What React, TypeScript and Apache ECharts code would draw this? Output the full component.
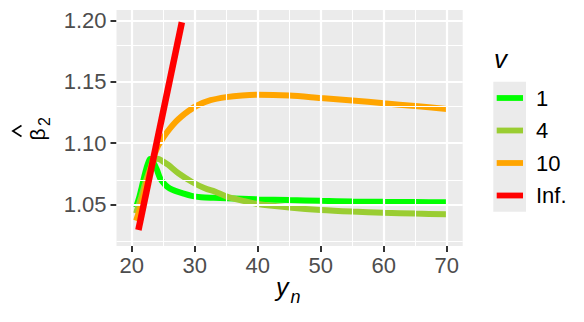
import React, { useEffect, useRef } from "react";
import * as echarts from "echarts";

const seriesNames = ["1", "4", "10", "Inf."];
const seriesColors = ["#00ff00", "#9acd32", "#ffa500", "#ff0000"];

const xV1 = [20.68, 21.2, 21.6, 22.0, 22.4, 22.65, 22.9, 23.15, 23.4, 23.7, 24.0, 24.5, 25.3, 26.0, 26.9, 28.0, 29.5, 31.0, 33.0, 35.0, 40.0, 45.0, 50.0, 55.0, 60.0, 65.0, 70.0];
const yV1 = [1.0475, 1.056, 1.0644, 1.073, 1.0807, 1.0845, 1.087, 1.0866, 1.0845, 1.0815, 1.078, 1.0712, 1.0658, 1.063, 1.0609, 1.059, 1.0568, 1.0558, 1.0553, 1.0549, 1.0541, 1.0534, 1.0528, 1.0523, 1.052, 1.0518, 1.0516];

const xV4 = [20.68, 21.5, 22.3, 23.0, 23.5, 24.1, 24.8, 25.8, 27.4, 29.5, 31.6, 33.2, 35.1, 37.5, 40.0, 45.0, 50.0, 55.0, 60.0, 65.0, 70.0];
const yV4 = [1.0426, 1.056, 1.07, 1.08, 1.0855, 1.0872, 1.0855, 1.0821, 1.0753, 1.0684, 1.063, 1.0603, 1.0562, 1.053, 1.0502, 1.0474, 1.0453, 1.044, 1.0431, 1.0424, 1.0418];

const xV10 = [20.68, 21.5, 22.3, 23.0, 23.5, 24.2, 25.0, 26.0, 27.0, 28.0, 29.0, 30.3, 32.5, 35.0, 37.5, 40.0, 45.0, 50.0, 55.0, 60.0, 65.0, 70.0];
const yV10 = [1.0365, 1.05, 1.066, 1.08, 1.089, 1.098, 1.1045, 1.1115, 1.1175, 1.1222, 1.1262, 1.1305, 1.135, 1.1375, 1.1389, 1.1395, 1.1388, 1.1368, 1.1348, 1.1325, 1.1302, 1.1279];

const xInf = [21.05, 27.95];
const yInf = [1.029, 1.1987];

const xTicks = [20, 30, 40, 50, 60, 70];
const xMinor = [25, 35, 45, 55, 65];
const yTicks = [1.05, 1.1, 1.15, 1.2];
const yMinor = [1.025, 1.075, 1.125, 1.175];

const FONT = "'Liberation Sans', Arial, Helvetica, sans-serif";

const zip = (xs: number[], ys: number[]) => xs.map((x, i) => [x, ys[i]]);
const seriesX = [xV1, xV4, xV10, xInf];
const seriesY = [yV1, yV4, yV10, yInf];

function txt(x: number, y: number, text: string, size: number, opts: any = {}) {
  const align = opts.align || "left";
  const vAlign = opts.vAlign || "middle";
  return {
    type: "text",
    x,
    y,
    rotation: opts.rotation || 0,
    z: 10,
    style: {
      text,
      fill: opts.color || "#000000",
      fontSize: size,
      fontFamily: FONT,
      fontStyle: opts.italic ? "italic" : "normal",
      align,
      verticalAlign: vAlign,
      textAlign: align,
      textVerticalAlign: vAlign,
    },
  };
}

export default function App() {
  const ref = useRef<HTMLDivElement>(null);
  useEffect(() => {
    const chart = echarts.init(ref.current!, null, { renderer: "svg" });
    const gridLines = [
      ...xMinor.map((v) => ({ xAxis: v, lineStyle: { width: 1.1 } })),
      ...yMinor.map((v) => ({ yAxis: v, lineStyle: { width: 1.1 } })),
      ...xTicks.map((v) => ({ xAxis: v, lineStyle: { width: 2.2 } })),
      ...yTicks.map((v) => ({ yAxis: v, lineStyle: { width: 2.2 } })),
    ];
    const option: any = {
      animation: false,
      backgroundColor: "#ffffff",
      grid: {
        left: 116.5,
        top: 10,
        width: 346.2,
        height: 236,
        show: true,
        backgroundColor: "#ebebeb",
        borderWidth: 0,
        containLabel: false,
      },
      xAxis: {
        type: "value",
        min: 17.57,
        max: 72.54,
        axisLine: { show: false },
        splitLine: { show: false },
        axisTick: { show: true, length: 6, lineStyle: { color: "#333333", width: 2 }, customValues: xTicks },
        axisLabel: { customValues: xTicks, color: "#4d4d4d", fontSize: 22, fontFamily: FONT, margin: 8 },
      },
      yAxis: {
        type: "value",
        min: 1.0159,
        max: 1.2087,
        axisLine: { show: false },
        splitLine: { show: false },
        axisTick: { show: true, length: 6, lineStyle: { color: "#333333", width: 2 }, customValues: yTicks },
        axisLabel: {
          customValues: yTicks,
          color: "#4d4d4d",
          fontSize: 22,
          fontFamily: FONT,
          margin: 10,
          padding: [4, 0, 0, 0],
          formatter: (v: number) => v.toFixed(2),
        },
      },
      legend: {
        data: seriesNames,
        orient: "vertical",
        left: 496.7,
        top: 87,
        padding: 0,
        itemWidth: 26.3,
        itemHeight: 5.8,
        itemGap: 10.5,
        icon: "rect",
        selectedMode: false,
        itemStyle: { borderWidth: 0 },
        textStyle: { fontSize: 22, color: "#000000", fontFamily: FONT, lineHeight: 22, padding: [0, 0, 0, 8] },
      },
      graphic: [
        { type: "rect", shape: { x: 493.3, y: 81.7, width: 32.7, height: 130 }, style: { fill: "#ebebeb" }, z: 0 },
        txt(494, 59, "v", 26, { italic: true }),
        txt(276, 287.3, "y", 25, { italic: true }),
        txt(290.5, 296.8, "n", 18, { italic: true }),
        txt(37.5, 140.5, "β", 21, { rotation: Math.PI / 2 }),
        txt(44.5, 126, "2", 16, { rotation: Math.PI / 2 }),
        {
          type: "polyline",
          z: 10,
          shape: { points: [[21.5, 125.5], [12.8, 131], [21.5, 136.5]] },
          style: { stroke: "#000000", lineWidth: 1.6, fill: "none" },
        },
      ],
      series: [
        {
          name: "__grid",
          type: "line",
          data: [],
          z: 1,
          silent: true,
          markLine: {
            silent: true,
            symbol: ["none", "none"],
            label: { show: false },
            lineStyle: { color: "#ffffff", type: "solid" },
            data: gridLines,
          },
        },
        ...seriesNames.map((name, i) => ({
          name,
          type: "line",
          data: zip(seriesX[i], seriesY[i]),
          showSymbol: false,
          symbol: "none",
          smooth: i === 3 ? false : 0.3,
          z: 2 + i,
          color: seriesColors[i],
          itemStyle: { color: seriesColors[i] },
          lineStyle: { color: seriesColors[i], width: i === 3 ? 6.5 : 6, cap: "butt" },
        })),
      ],
    };
    chart.setOption(option);
    return () => chart.dispose();
  }, []);
  return (
    <div
      ref={ref}
      style={{ position: "fixed", left: 0, top: 0, width: 584, height: 322, background: "#ffffff" }}
    />
  );
}
